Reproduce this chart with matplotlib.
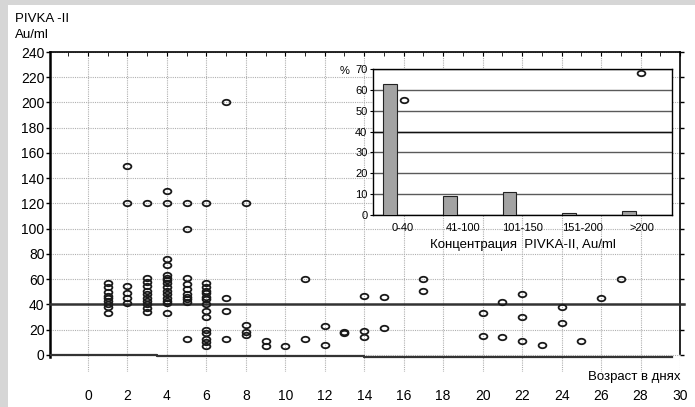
import matplotlib.pyplot as plt
from matplotlib.path import Path
from matplotlib.patches import Rectangle
from matplotlib.transforms import Affine2D
from matplotlib.ticker import MultipleLocator

plt.rcParams['font.family'] = ['Liberation Sans', 'DejaVu Sans']

# PIVKA-II (Au/ml) by age in days
days = [1, 2, 3, 4, 5, 6, 7, 8, 9, 10, 11, 12, 13, 14, 15, 16, 17,
        20, 21, 22, 23, 24, 25, 26, 27, 28]
pivka = [
    [57, 54, 50, 47, 45, 43, 40, 38, 33],
    [150, 120, 55, 49, 45, 41],
    [120, 61, 58, 55, 51, 48, 45, 43, 40, 37, 34],
    [130, 120, 76, 71, 63, 61, 59, 57, 54, 51, 48, 45, 43, 41, 33],
    [120, 100, 61, 56, 52, 48, 46, 44, 42, 13],
    [120, 57, 54, 51, 49, 46, 44, 40, 35, 30, 20, 17, 13, 10, 7],
    [200, 45, 35, 13],
    [120, 24, 18, 16],
    [11, 7],
    [7],
    [60, 13],
    [23, 8],
    [18, 17],
    [47, 19, 14],
    [46, 21],
    [202],
    [60, 51],
    [33, 15],
    [42, 14],
    [48, 30, 11],
    [8],
    [38, 25],
    [11],
    [45],
    [60],
    [223],
]
threshold = 40
baseline_x = [-1.92, 3.5, 14, 24.4, 29.6]
baseline_y = [0, -1.2, -1.6, -2.0, -2.0]

# inset: distribution by concentration
conc_labels = ['0-40', '41-100', '101-150', '151-200', '>200']
conc_pct = [63, 9, 11, 1, 2]

xs = [d for d, vals in zip(days, pivka) for v in vals]
ys = [v for d, vals in zip(days, pivka) for v in vals]

W, H = 695, 407
fig = plt.figure(figsize=(W / 100, H / 100), dpi=100)
fig.patch.set_facecolor('#d6d6d6')
fig.add_artist(Rectangle((8 / W, 0), 1, (H - 5) / H, transform=fig.transFigure,
                         facecolor='white', edgecolor='none', zorder=-10))

ax = fig.add_axes([50 / W, 35 / H, 630 / W, 320 / H])
ax.set_facecolor('none')
ax.set_xlim(-1.92, 30)
ax.set_ylim(-13.5, 240)

ell = Path.unit_circle().transformed(Affine2D().scale(1.0, 0.7))
mstyle = dict(ls='none', marker=ell, ms=5.6, mfc='none', mec='#1a1a1a', mew=1.3)
ax.plot(xs, ys, zorder=5, **mstyle)

ax.plot([-1.92, 30.2], [threshold, threshold], color='#333333', lw=1.8,
        clip_on=False, zorder=4)
ax.step(baseline_x, baseline_y, where='post', color='#333333', lw=1.6, zorder=4)

ax.set_xticks(range(0, 31, 2))
ax.xaxis.set_minor_locator(MultipleLocator(1))
ax.set_yticks(range(0, 241, 20))
ax.grid(True, which='major', linestyle=(0, (1, 1)), color='#b0b0b0', lw=0.8)
ax.tick_params(axis='x', which='major', bottom=False, top=True, direction='in',
               length=3, pad=12, labelsize=10)
ax.tick_params(axis='x', which='minor', bottom=False, top=True, direction='in',
               length=3)
ax.tick_params(axis='y', left=True, right=True, direction='out', length=3,
               width=1, labelsize=10, pad=1)

ax.spines['bottom'].set_visible(False)
ax.spines['left'].set_bounds(-1.5, 240)
ax.spines['left'].set_linewidth(1.8)
ax.spines['right'].set_bounds(1, 240)
ax.spines['right'].set_linewidth(1.2)
ax.spines['top'].set_linewidth(1.2)

fig.text(15 / W, 1 - 19 / H, 'PIVKA -II', fontsize=9.5, va='center', ha='left')
fig.text(15 / W, 1 - 35 / H, 'Au/ml', fontsize=9.5, va='center', ha='left')
fig.text(680 / W, 1 - 377 / H, 'Возраст в днях', fontsize=9.5, va='center', ha='right')

# inset bar chart
axin = fig.add_axes([373 / W, (H - 215) / H, 299 / W, 146 / H])
axin.set_facecolor('white')
pos = range(len(conc_labels))
axin.bar([p - 0.217 for p in pos], conc_pct, width=0.233, color='#a3a3a3',
         edgecolor='#222222', lw=0.8, zorder=3)
axin.set_xlim(-0.5, 4.5)
axin.set_ylim(0, 70)
axin.set_yticks(range(0, 71, 10))
axin.set_xticks(list(pos))
axin.set_xticklabels(conc_labels)
axin.yaxis.grid(True, color='#5a5a5a', lw=1, zorder=1)
axin.axhline(threshold, color='#111111', lw=1, zorder=2)
axin.tick_params(axis='x', length=0, pad=6, labelsize=8)
axin.tick_params(axis='y', length=2, pad=2, labelsize=8)
axin.set_xlabel('Концентрация  PIVKA-II, Au/ml', fontsize=9.5, labelpad=4)
for s in axin.spines.values():
    s.set_linewidth(1)
axin.spines['top'].set_color('black')
fig.text(340 / W, 1 - 71 / H, '%', fontsize=8, va='center', ha='left')

# points of the main chart that fall on the inset area stay on top
axin.plot(xs, ys, transform=ax.transData, zorder=6, **mstyle)
axin.set_xlim(-0.5, 4.5)
axin.set_ylim(0, 70)

fig.savefig('out.png', dpi=100, facecolor=fig.get_facecolor())
